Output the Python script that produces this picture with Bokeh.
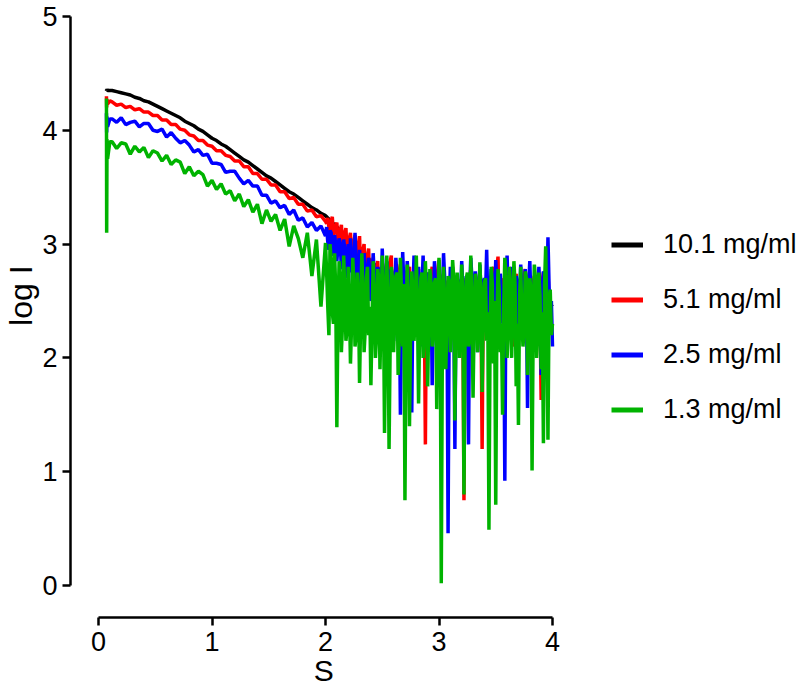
from bokeh.plotting import figure
from bokeh.models import Range1d, FixedTicker, Legend, LegendItem
from bokeh.embed import file_html
from bokeh.resources import INLINE

# ---------------- data ----------------
S_head = [0.07, 0.072, 0.075, 0.08, 0.10]
S_low = [0.12, 0.16, 0.20, 0.24, 0.28, 0.32, 0.36, 0.40, 0.44, 0.48,
         0.52, 0.56, 0.60, 0.64, 0.68, 0.72, 0.76, 0.80, 0.84, 0.88,
         0.92, 0.96, 1.00, 1.04, 1.08, 1.12, 1.16, 1.20, 1.24, 1.28,
         1.32, 1.36, 1.40, 1.44, 1.48, 1.52, 1.56, 1.60, 1.64, 1.68,
         1.72, 1.76, 1.80, 1.84, 1.88, 1.92, 1.96, 2.00]
S_high = [2.01, 2.02, 2.03, 2.04, 2.05, 2.06, 2.07, 2.08, 2.09, 2.10,
          2.11, 2.12, 2.13, 2.14, 2.15, 2.16, 2.17, 2.18, 2.19, 2.20,
          2.21, 2.22, 2.23, 2.24, 2.25, 2.26, 2.27, 2.28, 2.29, 2.30,
          2.31, 2.32, 2.33, 2.34, 2.35, 2.36, 2.37, 2.38, 2.39, 2.40,
          2.41, 2.42, 2.43, 2.44, 2.45, 2.46, 2.47, 2.48, 2.49, 2.50,
          2.51, 2.52, 2.53, 2.54, 2.55, 2.56, 2.57, 2.58, 2.59, 2.60,
          2.61, 2.62, 2.63, 2.64, 2.65, 2.66, 2.67, 2.68, 2.69, 2.70,
          2.71, 2.72, 2.73, 2.74, 2.75, 2.76, 2.77, 2.78, 2.79, 2.80,
          2.81, 2.82, 2.83, 2.84, 2.85, 2.86, 2.87, 2.88, 2.89, 2.90,
          2.91, 2.92, 2.93, 2.94, 2.95, 2.96, 2.97, 2.98, 2.99, 3.00,
          3.01, 3.02, 3.03, 3.04, 3.05, 3.06, 3.07, 3.08, 3.09, 3.10,
          3.11, 3.12, 3.13, 3.14, 3.15, 3.16, 3.17, 3.18, 3.19, 3.20,
          3.21, 3.22, 3.23, 3.24, 3.25, 3.26, 3.27, 3.28, 3.29, 3.30,
          3.31, 3.32, 3.33, 3.34, 3.35, 3.36, 3.37, 3.38, 3.39, 3.40,
          3.41, 3.42, 3.43, 3.44, 3.45, 3.46, 3.47, 3.48, 3.49, 3.50,
          3.51, 3.52, 3.53, 3.54, 3.55, 3.56, 3.57, 3.58, 3.59, 3.60,
          3.61, 3.62, 3.63, 3.64, 3.65, 3.66, 3.67, 3.68, 3.69, 3.70,
          3.71, 3.72, 3.73, 3.74, 3.75, 3.76, 3.77, 3.78, 3.79, 3.80,
          3.81, 3.82, 3.83, 3.84, 3.85, 3.86, 3.87, 3.88, 3.89, 3.90,
          3.91, 3.92, 3.93, 3.94, 3.95, 3.96, 3.97, 3.98, 3.99, 4.00]
S = S_head + S_low + S_high

logI_10_1 = ([4.36, 4.35, 4.36, 4.35, 4.35] +
             [4.35, 4.34, 4.33, 4.32, 4.31, 4.29, 4.28, 4.26, 4.25, 4.23,
              4.21, 4.19, 4.17, 4.15, 4.13, 4.11, 4.08, 4.06, 4.04, 4.01,
              3.99, 3.96, 3.93, 3.91, 3.88, 3.86, 3.83, 3.80, 3.77, 3.74,
              3.72, 3.69, 3.66, 3.63, 3.60, 3.58, 3.55, 3.52, 3.49, 3.46,
              3.44, 3.41, 3.38, 3.35, 3.32, 3.30, 3.27, 3.25] +
             [3.24, 3.23, 3.22, 3.21, 3.20, 3.19, 3.18, 3.17, 3.16, 3.15,
              3.14, 3.13, 3.12, 3.11, 3.10, 3.09, 3.08, 3.07, 3.06, 3.05,
              3.04, 3.03, 3.02, 3.01, 3.00, 2.99, 2.98, 2.97, 2.96, 2.95,
              2.94, 2.93, 2.92, 2.91, 2.90, 2.89, 2.88, 2.87, 2.86, 2.85,
              2.84, 2.83, 2.82, 2.81, 2.80, 2.79, 2.78, 2.77, 2.76, 2.75,
              2.74, 2.73, 2.72, 2.71, 2.70, 2.69, 2.68, 2.68, 2.67, 2.66,
              2.62, 2.65, 2.61, 2.64, 2.60, 2.63, 2.61, 2.64, 2.60, 2.62,
              2.59, 2.63, 2.60, 2.62, 2.58, 2.61, 2.59, 2.62, 2.58, 2.60,
              2.57, 2.61, 2.58, 2.60, 2.57, 2.60, 2.58, 2.61, 2.56, 2.59,
              2.57, 2.60, 2.56, 2.59, 2.57, 2.59, 2.55, 2.58, 2.56, 2.59,
              2.55, 2.58, 2.56, 2.58, 2.54, 2.57, 2.55, 2.58, 2.54, 2.57,
              2.55, 2.57, 2.53, 2.56, 2.54, 2.57, 2.53, 2.56, 2.54, 2.56,
              2.53, 2.55, 2.52, 2.56, 2.53, 2.55, 2.52, 2.54, 2.53, 2.55,
              2.52, 2.55, 2.51, 2.54, 2.52, 2.55, 2.51, 2.54, 2.52, 2.54,
              2.51, 2.54, 2.50, 2.53, 2.51, 2.54, 2.50, 2.53, 2.51, 2.53,
              2.50, 2.53, 2.49, 2.52, 2.50, 2.53, 2.49, 2.52, 2.50, 2.52,
              2.49, 2.52, 2.48, 2.51, 2.49, 2.52, 2.48, 2.51, 2.49, 2.51,
              2.48, 2.51, 2.47, 2.50, 2.48, 2.51, 2.47, 2.50, 2.48, 2.50,
              2.47, 2.50, 2.46, 2.49, 2.47, 2.50, 2.46, 2.49, 2.47, 2.49,
              2.46, 2.49, 2.45, 2.48, 2.46, 2.49, 2.45, 2.48, 2.46, 2.45])

logI_5_1 = ([4.30, 4.20, 4.27, 4.23, 4.26] +
            [4.25, 4.22, 4.23, 4.20, 4.21, 4.18, 4.19, 4.16, 4.16, 4.13,
             4.13, 4.09, 4.09, 4.05, 4.05, 4.01, 4.00, 3.96, 3.95, 3.91,
             3.91, 3.87, 3.86, 3.82, 3.82, 3.78, 3.77, 3.73, 3.73, 3.68,
             3.68, 3.62, 3.62, 3.57, 3.57, 3.52, 3.52, 3.46, 3.46, 3.40,
             3.41, 3.35, 3.35, 3.29, 3.30, 3.24, 3.25, 3.20] +
            [3.18, 3.23, 3.15, 3.12, 3.20, 3.24, 3.08, 3.10, 3.16, 3.19,
             3.02, 3.05, 3.12, 3.17, 2.98, 3.00, 3.10, 3.14, 2.92, 2.95,
             3.05, 3.10, 2.85, 2.88, 3.02, 3.08, 2.78, 2.80, 3.00, 3.07,
             2.72, 2.75, 2.95, 3.00, 2.68, 2.70, 2.90, 2.96, 2.62, 2.65,
             2.82, 2.88, 2.50, 2.55, 2.80, 2.85, 2.58, 2.62, 2.75, 2.80,
             2.45, 2.50, 2.78, 2.84, 2.40, 2.45, 2.85, 2.90, 2.50, 2.55,
             2.72, 2.78, 2.35, 2.40, 2.76, 2.82, 2.45, 2.50, 2.70, 2.76,
             2.30, 2.35, 2.74, 2.80, 2.40, 2.45, 2.68, 2.72, 2.25, 2.30,
             2.70, 2.78, 2.45, 2.50, 2.65, 2.70, 2.60, 1.24, 2.68, 2.75,
             2.35, 2.40, 2.74, 2.80, 2.30, 2.35, 2.66, 2.70, 2.78, 2.86,
             2.40, 2.30, 2.68, 2.74, 2.38, 2.45, 2.62, 2.68, 2.25, 2.20,
             2.72, 2.80, 2.35, 2.40, 2.66, 2.72, 2.28, 2.30, 2.60, 2.65,
             2.40, 0.75, 2.64, 2.70, 2.30, 2.35, 2.70, 2.78, 2.20, 2.25,
             2.64, 2.70, 2.35, 2.40, 2.68, 2.75, 2.45, 1.20, 2.58, 2.66,
             2.35, 2.30, 2.66, 2.72, 2.40, 2.45, 2.74, 2.80, 2.25, 2.20,
             2.80, 2.89, 2.35, 2.40, 2.64, 2.70, 2.30, 2.25, 2.70, 2.75,
             2.30, 2.35, 2.62, 2.68, 2.15, 2.10, 2.68, 2.74, 2.35, 2.40,
             2.60, 2.65, 2.25, 2.20, 2.72, 2.78, 2.30, 2.35, 2.64, 2.70,
             2.20, 2.15, 2.66, 2.72, 2.35, 2.40, 2.60, 2.66, 2.40, 1.63,
             2.68, 2.75, 2.35, 2.30, 2.74, 2.80, 2.40, 2.45, 2.30, 2.27])

logI_2_5 = ([4.15, 3.98, 4.12, 4.03, 4.10] +
            [4.10, 4.07, 4.11, 4.05, 4.07, 4.08, 4.03, 4.06, 4.06, 4.00,
             3.99, 4.01, 3.94, 3.98, 3.93, 3.89, 3.91, 3.87, 3.81, 3.83,
             3.78, 3.79, 3.71, 3.71, 3.70, 3.63, 3.64, 3.64, 3.58, 3.53,
             3.56, 3.51, 3.51, 3.43, 3.43, 3.36, 3.38, 3.32, 3.34, 3.26,
             3.30, 3.21, 3.23, 3.15, 3.19, 3.12, 3.16, 3.07] +
            [3.15, 3.02, 2.95, 3.12, 3.10, 2.90, 2.92, 3.08, 3.00, 2.85,
             2.98, 3.05, 3.00, 2.78, 2.85, 3.04, 2.95, 2.70, 2.82, 3.00,
             2.75, 3.05, 2.90, 2.62, 2.70, 3.10, 2.85, 2.50, 2.68, 2.95,
             2.80, 2.58, 2.65, 2.92, 2.78, 2.40, 2.62, 2.88, 2.75, 2.50,
             2.60, 2.92, 2.72, 2.30, 2.55, 2.80, 2.70, 2.55, 2.50, 2.96,
             2.65, 2.20, 2.48, 2.85, 2.75, 2.45, 2.55, 2.78, 2.68, 2.15,
             2.50, 2.88, 2.70, 2.40, 2.60, 1.50, 2.45, 2.93, 2.65, 2.30,
             2.52, 2.85, 2.70, 2.05, 2.48, 1.52, 2.60, 2.90, 2.72, 2.35,
             2.55, 2.80, 2.45, 2.10, 2.62, 2.90, 2.50, 2.25, 2.66, 2.75,
             2.52, 2.40, 2.70, 1.76, 2.45, 2.85, 2.60, 2.20, 2.50, 2.78,
             2.60, 2.30, 2.48, 2.92, 2.70, 2.15, 2.55, 0.46, 2.45, 2.80,
             2.62, 2.35, 2.50, 1.20, 2.55, 2.70, 2.66, 2.25, 2.48, 2.85,
             2.58, 2.10, 2.45, 2.72, 2.60, 1.24, 2.52, 2.88, 2.70, 2.30,
             2.50, 2.76, 2.62, 2.05, 2.45, 2.82, 2.58, 2.40, 2.66, 2.70,
             2.55, 2.95, 2.48, 2.20, 2.60, 2.78, 2.70, 2.35, 2.52, 2.86,
             2.62, 2.10, 2.45, 2.74, 2.58, 2.30, 2.50, 0.92, 2.68, 2.90,
             2.55, 2.25, 2.48, 2.80, 2.62, 2.40, 2.52, 2.72, 2.66, 2.15,
             2.50, 2.82, 2.60, 2.20, 2.45, 2.78, 2.58, 1.56, 2.62, 2.85,
             2.52, 2.05, 2.48, 2.70, 2.65, 2.30, 2.55, 2.80, 2.60, 1.85,
             2.45, 2.76, 2.70, 2.20, 2.52, 3.06, 2.62, 2.40, 2.50, 2.10])

logI_1_3 = ([4.28, 3.10, 3.92, 3.75, 3.90] +
            [3.90, 3.84, 3.89, 3.88, 3.79, 3.86, 3.81, 3.85, 3.76, 3.82,
             3.80, 3.73, 3.78, 3.70, 3.74, 3.72, 3.62, 3.68, 3.60, 3.64,
             3.61, 3.51, 3.56, 3.48, 3.53, 3.44, 3.47, 3.38, 3.44, 3.33,
             3.39, 3.28, 3.35, 3.18, 3.30, 3.20, 3.26, 3.12, 3.22, 2.98,
             3.16, 3.05, 2.88, 3.10, 2.72, 3.04, 2.45, 3.01] +
            [2.75, 2.45, 2.20, 3.00, 2.85, 2.40, 2.30, 2.92, 2.60, 1.39,
             2.40, 2.85, 2.70, 2.05, 2.30, 2.90, 2.60, 2.15, 2.25, 2.80,
             2.50, 1.95, 2.30, 2.88, 2.65, 2.10, 2.20, 2.75, 2.55, 1.78,
             2.35, 2.92, 2.60, 2.05, 2.25, 2.70, 2.80, 2.20, 2.45, 1.76,
             2.30, 2.85, 2.55, 2.00, 2.20, 2.78, 2.70, 1.90, 2.40, 2.90,
             2.60, 1.34, 2.25, 2.90, 2.45, 1.20, 2.15, 2.80, 2.70, 2.05,
             2.35, 2.72, 2.75, 1.85, 2.20, 2.88, 2.55, 2.10, 2.65, 0.75,
             2.30, 2.82, 2.50, 1.40, 2.25, 2.76, 2.60, 2.15, 2.35, 2.90,
             2.45, 1.60, 2.30, 2.70, 2.75, 2.00, 2.20, 2.85, 2.55, 1.75,
             2.35, 2.78, 2.65, 2.10, 2.25, 2.66, 2.70, 1.55, 2.40, 2.88,
             2.60, 0.02, 2.20, 2.80, 2.50, 1.90, 2.35, 2.72, 2.65, 2.05,
             2.40, 2.86, 2.70, 1.45, 2.25, 2.75, 2.60, 2.00, 2.30, 2.82,
             2.55, 0.80, 2.30, 2.70, 2.75, 2.10, 2.20, 2.90, 2.45, 1.65,
             2.35, 2.74, 2.65, 2.05, 2.25, 2.84, 2.55, 1.70, 2.40, 2.66,
             2.70, 2.15, 2.40, 0.49, 2.20, 2.80, 2.65, 1.95, 2.50, 0.71,
             2.35, 2.78, 2.60, 2.05, 2.30, 1.50, 2.45, 2.88, 2.70, 2.00,
             2.25, 2.80, 2.60, 2.00, 2.40, 2.85, 2.65, 1.75, 2.30, 1.41,
             2.55, 2.80, 2.35, 2.10, 2.25, 2.76, 2.70, 1.85, 2.45, 2.70,
             2.60, 1.01, 2.30, 2.82, 2.70, 2.00, 2.20, 2.75, 2.55, 1.90,
             2.40, 1.25, 2.65, 2.98, 2.35, 1.28, 2.50, 2.60, 2.20, 2.30])

labels = ["10.1 mg/ml", "5.1 mg/ml", "2.5 mg/ml", "1.3 mg/ml"]
series = [logI_10_1, logI_5_1, logI_2_5, logI_1_3]
colors = ["#000000", "#FF0000", "#0000FF", "#00B300"]
x_ticks = [0, 1, 2, 3, 4]
y_ticks = [0, 1, 2, 3, 4, 5]

# ---------------- figure ----------------
FONT = "Liberation Sans"
NB = "\u00a0"
p = figure(width=810, height=698, output_backend="svg",
           toolbar_location=None,
           x_range=Range1d(-0.2467, 6.2731), y_range=Range1d(-0.2812, 5.1406),
           min_border_left=70, min_border_right=0, min_border_top=0,
           min_border_bottom=81)
p.outline_line_color = None
p.grid.visible = False
p.background_fill_color = "white"

# the axis titles are centred on the frame; padding with no-break spaces
# moves their visible part over the middle of the drawn axis
for ax, ticks, bounds, lab, lsz, std in (
        (p.xaxis[0], x_ticks, (0, 4), "S" + NB * 28, "30px", 6),
        (p.yaxis[0], y_ticks, (0, 5), NB * 3 + "log I", "32px", 5)):
    ax.ticker = FixedTicker(ticks=ticks)
    ax.bounds = bounds
    ax.axis_label = lab
    ax.axis_line_width = 2.5
    ax.axis_line_color = "black"
    ax.major_tick_line_width = 2.5
    ax.major_tick_line_color = "black"
    ax.major_tick_out = 8
    ax.major_tick_in = 0
    ax.minor_tick_line_color = None
    ax.major_label_text_font = FONT
    ax.major_label_text_font_size = "27px"
    ax.major_label_text_color = "black"
    ax.major_label_standoff = std
    ax.axis_label_text_font = FONT
    ax.axis_label_text_font_size = lsz
    ax.axis_label_text_font_style = "normal"
    ax.axis_label_text_color = "black"
    ax.axis_label_standoff = 0

for ys, c in zip(series, colors):
    p.line(S, ys, line_width=3.5, color=c, line_join="bevel")

items = []
for lab, c in zip(labels, colors):
    r = p.line(x=[float("nan")], y=[float("nan")], line_width=5, color=c)
    items.append(LegendItem(label=lab, renderers=[r]))

legend = Legend(items=items, location=(541, 192), orientation="vertical",
                padding=0, margin=0, spacing=24, glyph_width=32,
                glyph_height=31, label_height=31, label_standoff=20,
                label_text_font=FONT, label_text_font_size="27px",
                label_text_color="black",
                border_line_color=None, background_fill_alpha=0)
p.add_layout(legend)

open("out.html", "w").write(file_html(p, INLINE))
